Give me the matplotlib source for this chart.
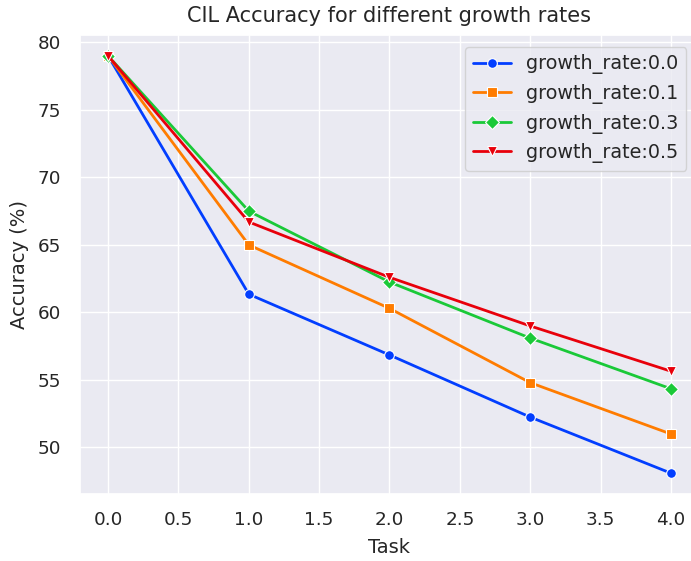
import matplotlib
matplotlib.use('Agg')
import matplotlib.pyplot as plt
import seaborn as sns

tasks = [0, 1, 2, 3, 4]
labels = ['growth_rate:0.0', 'growth_rate:0.1', 'growth_rate:0.3', 'growth_rate:0.5']
acc_00 = [79.0, 61.35, 56.85, 52.25, 48.1]
acc_01 = [79.0, 65.0, 60.3, 54.8, 51.0]
acc_03 = [79.0, 67.5, 62.25, 58.1, 54.35]
acc_05 = [79.0, 66.7, 62.6, 59.0, 55.65]
markers = ['o', 's', 'D', 'v']

sns.set_theme(style='darkgrid', font_scale=1.25)
colors = sns.color_palette('bright', 4)

fig = plt.figure(figsize=(6.91, 5.61), dpi=100)
# the original picture was cropped on the right, so the axes run a bit past the edge
ax = fig.add_axes([80 / 691, 67 / 561, 619 / 691, 459 / 561])
for vals, lab, m, c in zip([acc_00, acc_01, acc_03, acc_05], labels, markers, colors):
    ax.plot(tasks, vals, marker=m, color=c, label=lab, linewidth=2,
            markersize=7, markeredgecolor='white', markeredgewidth=0.8)

ax.set_title('CIL Accuracy for different growth rates', pad=9)
ax.set_xlabel('Task', fontsize=14, labelpad=6)
ax.set_ylabel('Accuracy (%)', fontsize=14, labelpad=6)
ax.tick_params(labelsize=13.2)
ax.tick_params(axis='y', pad=7.5)
ax.tick_params(axis='x', pad=6.4)
ax.legend(loc='upper right', bbox_to_anchor=(0.995, 0.995))

fig.savefig('out.png')
